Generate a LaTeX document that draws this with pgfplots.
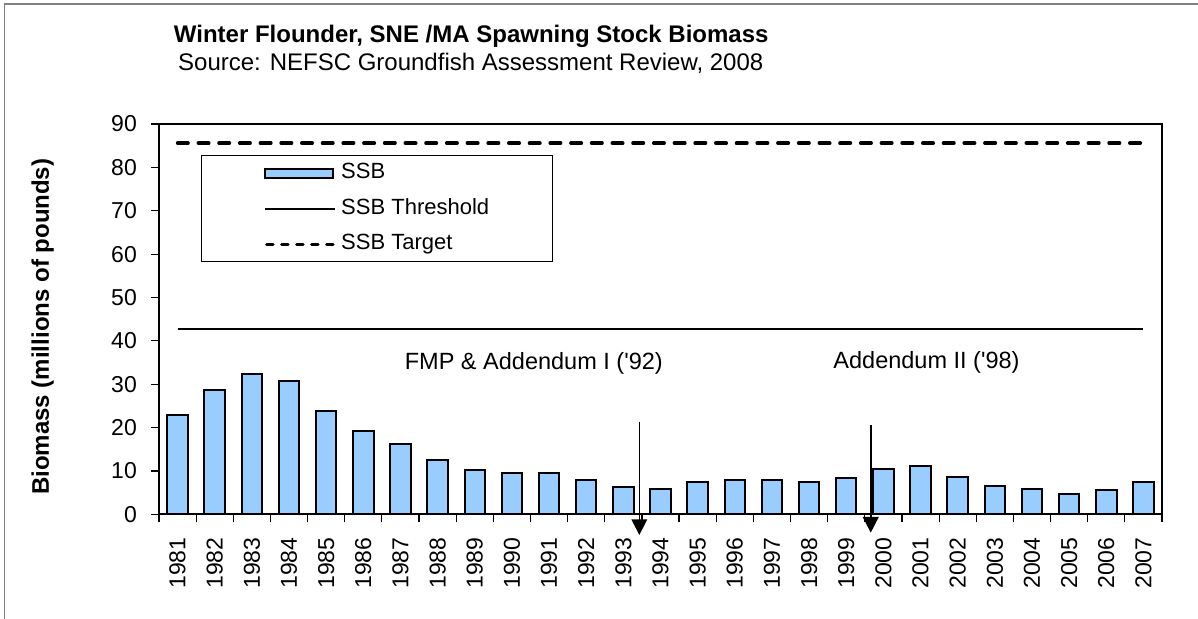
\documentclass[border=0pt]{standalone}
\usepackage{fontspec}
\setmainfont{Liberation Sans}
\usepackage{pgfplots}
\pgfplotsset{compat=1.18}
\usetikzlibrary{arrows.meta}
\definecolor{barblue}{RGB}{153,204,255}
\definecolor{framegray}{RGB}{128,128,128}
\newcommand{\fti}{\fontsize{24}{28}\selectfont}
\newcommand{\fs}{\fontsize{23.5}{28}\selectfont}
\newcommand{\fl}{\fontsize{22}{26}\selectfont}
\newcommand{\ft}{\fontsize{23}{27}\selectfont}
\begin{document}
\begin{tikzpicture}[x=1pt,y=1pt]
\useasboundingbox (0,0) rectangle (1198,618);
\draw[framegray, line width=1.6pt] (4.5,-2) -- (4.5,614) -- (1200,614);
\node[anchor=base west, inner sep=0pt] at (173.7,575.7) {\fti\bfseries Winter Flounder, SNE /MA Spawning Stock Biomass};
\node[anchor=base west, inner sep=0pt] at (178,547.3) {\fti Source: NEFSC Groundfish Assessment Review, 2008};
\begin{axis}[
  at={(159pt,103.7pt)}, anchor=south west,
  scale only axis, width=1003pt, height=390.3pt,
  xmin=-0.5, xmax=26.5, ymin=0, ymax=90,
  clip=false,
  axis line style={line width=2pt, black},
  xtick={-0.5,0.5,1.5,2.5,3.5,4.5,5.5,6.5,7.5,8.5,9.5,10.5,11.5,12.5,13.5,14.5,15.5,16.5,17.5,18.5,19.5,20.5,21.5,22.5,23.5,24.5,25.5,26.5},
  x tick label as interval,
  xticklabels={1981,1982,1983,1984,1985,1986,1987,1988,1989,1990,1991,1992,1993,1994,1995,1996,1997,1998,1999,2000,2001,2002,2003,2004,2005,2006,2007},
  ytick={0,10,20,30,40,50,60,70,80,90},
  tick align=outside, tick pos=left,
  major tick length=8pt,
  tick style={black, line width=1.2pt},
  x tick label style={rotate=90, anchor=east, font=\ft, inner sep=0pt},
  xticklabel shift=15pt,
  y tick label style={font=\ft, inner sep=0pt},
  yticklabel shift=14pt,
  /pgf/number format/assume math mode=true,
  ylabel={Biomass (millions of pounds)},
  ylabel style={font=\fti\bfseries, at={(axis description cs:-0.116,0.4807)}, anchor=center},
  legend cell align=left,
  legend style={at={(axis description cs:0.0416,0.9198)}, anchor=north west, draw=black, line width=1pt, fill=white, font=\fl,
    inner xsep=63pt, inner ysep=7pt, row sep=14.5pt,
    nodes={inner sep=0pt, text height=16pt, text depth=5pt},
    /tikz/every odd column/.append style={column sep=5pt}},
]
\addplot[ybar, bar width=20.5pt, fill=barblue, draw=black, line width=2pt,
  legend image code/.code={\draw[fill=barblue, draw=black, line width=2pt] (0pt,-4.5pt) rectangle (68pt,4.5pt);}]
  coordinates {
  (0,22.9) (1,28.6) (2,32.4) (3,30.7) (4,23.9) (5,19.1) (6,16.3) (7,12.6) (8,10.2)
  (9,9.5) (10,9.5) (11,7.8) (12,6.2) (13,5.8) (14,7.4) (15,7.9) (16,7.8) (17,7.55)
  (18,8.35) (19,10.4) (20,11.1) (21,8.5) (22,6.6) (23,5.9) (24,4.6) (25,5.7) (26,7.35)};
\addlegendentry{SSB}
\addplot[black, line width=1.8pt,
  legend image code/.code={\draw[black, line width=2pt] (0pt,0pt) -- (70pt,0pt);}]
  coordinates {(0,42.7) (26,42.7)};
\addlegendentry{SSB Threshold}
\addplot[black, line width=3.5pt, line cap=round, dash pattern=on 10.5pt off 10.2pt,
  legend image code/.code={\draw[black, line width=3pt, line cap=round, dash pattern=on 6.3pt off 8.7pt] (1.5pt,0pt) -- (69pt,0pt);}]
  coordinates {(0,85.6) (26,85.6)};
\addlegendentry{SSB Target}
\draw[black, line width=1.5pt, -{Triangle[width=15.7pt,length=15.7pt]}] (axis cs:12.43,21.35) -- (axis cs:12.43,-4.77);
\draw[black, line width=1.5pt, -{Triangle[width=15.7pt,length=15.7pt]}] (axis cs:18.66,20.6) -- (axis cs:18.66,-4.24);
\end{axis}
\node[anchor=base, inner sep=0pt] at (533.8,248.7) {\fs FMP \& Addendum I (\textquotesingle 92)};
\node[anchor=base east, inner sep=0pt] at (1019.7,249.7) {\fs Addendum II (\textquotesingle 98)};
\end{tikzpicture}
\end{document}
